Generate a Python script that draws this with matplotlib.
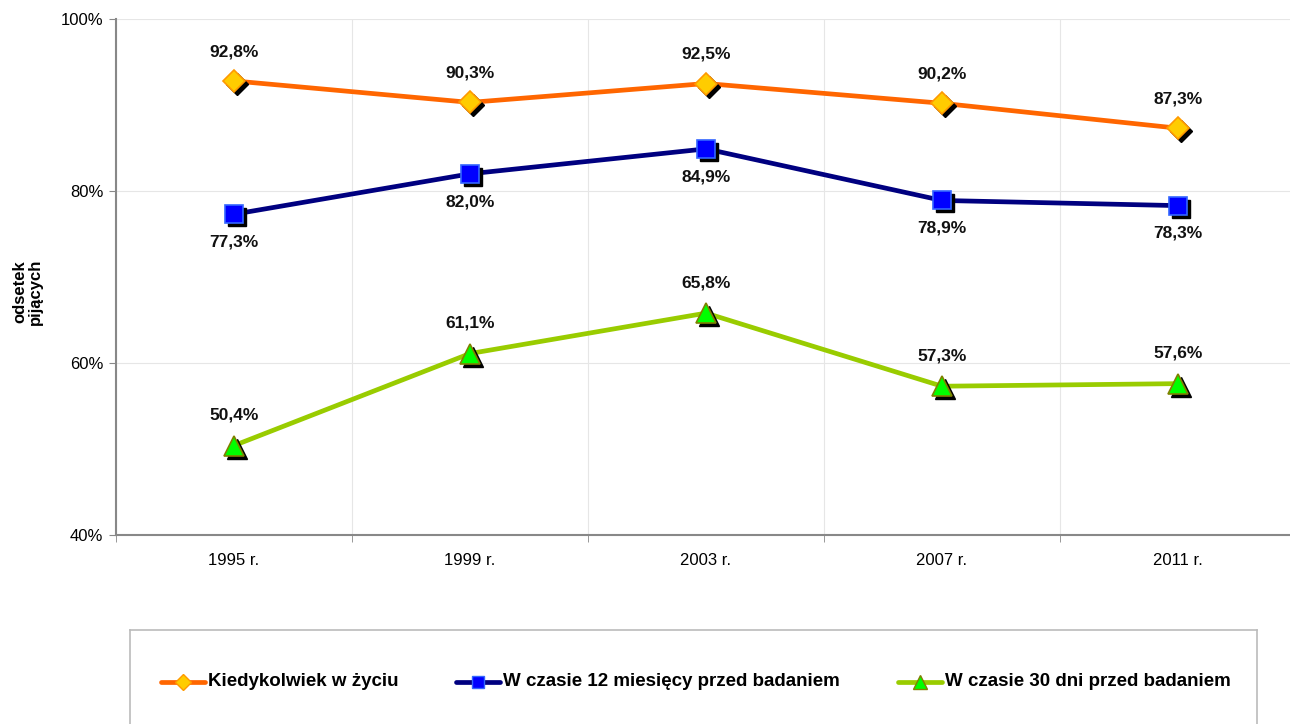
import matplotlib
matplotlib.use('Agg')
import numpy as np
import matplotlib.pyplot as plt
import matplotlib.transforms as mtransforms

plt.rcParams['font.family'] = ['Liberation Sans', 'DejaVu Sans']

# Data
YEARS = ['1995 r.', '1999 r.', '2003 r.', '2007 r.', '2011 r.']
EVER = [92.8, 90.3, 92.5, 90.2, 87.3]
MONTHS12 = [77.3, 82.0, 84.9, 78.9, 78.3]
DAYS30 = [50.4, 61.1, 65.8, 57.3, 57.6]
NAMES = ['Kiedykolwiek w życiu', 'W czasie 12 miesięcy przed badaniem', 'W czasie 30 dni przed badaniem']

# Styles: line colour, marker, marker face, marker edge, marker size, label offset (pt)
STYLES = [
    ('#FF6600', 'D', '#FFCC00', '#FF9900', 11.5, 21),
    ('#000080', 's', '#0000FF', '#3366FF', 13, -20),
    ('#99CC00', '^', '#00FF00', '#808000', 14.5, 22),
]

W, H = 1290, 724
fig = plt.figure(figsize=(W/100.0, H/100.0), dpi=100)
ax = fig.add_axes([116.0/W, 1-535.0/H, 1180.0/W, 516.0/H])

x = np.arange(len(YEARS))
shadow = mtransforms.ScaledTranslation(3.0/100.0, -3.0/100.0, fig.dpi_scale_trans)

for vals, (lc, mk, mf, me, ms, dy) in zip([EVER, MONTHS12, DAYS30], STYLES):
    ax.plot(x, vals, color=lc, lw=3.4, zorder=3, solid_capstyle='butt')
    ax.plot(x, vals, ls='none', marker=mk, ms=ms, mfc='black', mec='black',
            transform=ax.transData+shadow, zorder=4)
    ax.plot(x, vals, ls='none', marker=mk, ms=ms, mfc=mf, mec=me, mew=1.2, zorder=5)
    for xi, v in zip(x, vals):
        ax.annotate('{:.1f}%'.format(v).replace('.', ','), (xi, v), xytext=(0, dy),
                    textcoords='offset points', ha='center', va='center',
                    fontsize=12.5, fontweight='bold', color='#111111', zorder=6)

ax.set_xlim(-0.5, len(YEARS)-0.5)
ax.set_ylim(40, 100)
ax.set_yticks([40, 60, 80, 100])
ax.set_yticklabels(['40%', '60%', '80%', '100%'], fontsize=12)
ax.set_xticks(x)
ax.set_xticklabels(YEARS, fontsize=12)
ax.tick_params(axis='x', length=0, pad=13)
ax.set_xticks(np.arange(len(YEARS)+1)-0.5, minor=True)
ax.tick_params(axis='x', which='minor', length=5, color='#888888', direction='out')
ax.tick_params(axis='y', length=5, color='#888888', direction='out', pad=4)
ax.grid(axis='y', color='#E6E6E6', lw=0.8)
ax.grid(axis='x', which='minor', color='#E6E6E6', lw=0.8)
ax.set_axisbelow(True)
for s in ['top', 'right']:
    ax.spines[s].set_visible(False)
for s in ['left', 'bottom']:
    ax.spines[s].set_color('#888888')
    ax.spines[s].set_linewidth(1.5)

fig.text(28.0/W, 1-292.0/H, 'odsetek\npijących', rotation=90, ha='center', va='center',
         fontsize=12, fontweight='bold', linespacing=1.05)

# Legend box
lax = fig.add_axes([130.0/W, 0.0, 1127.0/W, 94.0/H])
lax.set_xlim(0, 1127)
lax.set_ylim(0, 94)
lax.set_xticks([])
lax.set_yticks([])
for s in lax.spines.values():
    s.set_color('#BBBBBB')
    s.set_linewidth(1.2)
lax.spines['bottom'].set_visible(False)
leg_x = [31, 326, 768]
for (lc, mk, mf, me, ms, dy), name, lx in zip(STYLES, NAMES, leg_x):
    lax.plot([lx, lx+44], [42, 42], color=lc, lw=3.4, solid_capstyle='round')
    lax.plot([lx+22], [42], marker=mk, mfc=mf, mec=me, ms=ms*0.68, ls='none')
    lax.text(lx+47, 42, name, va='center', ha='left', fontsize=13.5, fontweight='bold')

fig.savefig('out.png', dpi=100)
